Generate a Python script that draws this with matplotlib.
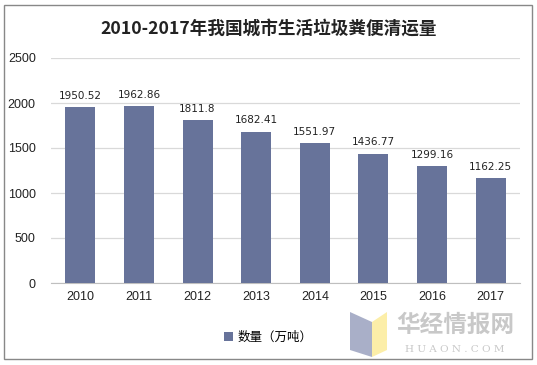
import matplotlib
matplotlib.use("Agg")
import matplotlib.pyplot as plt
from matplotlib.patches import Polygon, Rectangle

plt.rcParams['font.family'] = ['Noto Sans CJK SC', 'DejaVu Sans']

years = ['2010', '2011', '2012', '2013', '2014', '2015', '2016', '2017']
values = [1950.52, 1962.86, 1811.8, 1682.41, 1551.97, 1436.77, 1299.16, 1162.25]
labels = ['1950.52', '1962.86', '1811.8', '1682.41', '1551.97', '1436.77', '1299.16', '1162.25']
yticks = [0, 500, 1000, 1500, 2000, 2500]

fig = plt.figure(figsize=(5.37, 3.65), dpi=100)
fig.patches.append(Rectangle((4/537, 1-359/365), 528/537, 354/365, transform=fig.transFigure,
                             fill=False, edgecolor='#888888', linewidth=1.0))

ax = fig.add_axes([51/537, 1-283/365, 469/537, 225/365])
x = range(len(years))
ax.bar(x, values, width=0.51, color='#67739A', zorder=3, label='数量（万吨）')
for i, (v, l) in enumerate(zip(values, labels)):
    ax.text(i, v + 70, l, ha='center', va='bottom', fontsize=7.5, color='#222222',
            family=['DejaVu Sans'])
ax.set_xlim(-0.5, len(years) - 0.5)
ax.set_ylim(0, 2500)
ax.set_yticks(yticks)
ax.set_yticklabels([str(t) for t in yticks], fontsize=9, family=['Liberation Sans'])
ax.set_xticks(list(x))
ax.set_xticklabels(years, fontsize=9, family=['Liberation Sans'])
ax.grid(axis='y', color='#D9D9D9', linewidth=0.9, zorder=0)
for s in ['top', 'right', 'left']:
    ax.spines[s].set_visible(False)
ax.spines['bottom'].set_color('#BFBFBF')
ax.tick_params(axis='both', length=0, colors='#222222')
ax.tick_params(axis='y', pad=11)
ax.tick_params(axis='x', pad=6)

fig.text(0.5, 1-30/365, '2010-2017年我国城市生活垃圾粪便清运量', ha='center', va='center',
         fontsize=12.7, fontweight='bold', color='#222222')

leg = fig.legend(loc='center', bbox_to_anchor=(0.5, 1-337/365), frameon=False,
                 fontsize=9, handlelength=0.7, handleheight=0.7, handletextpad=0.4)

# watermark
fig.patches.append(Polygon([(350/537, 1-312/365), (372/537, 1-322/365), (372/537, 1-357/365), (350/537, 1-350/365)],
                           closed=True, transform=fig.transFigure, facecolor='#A9AFC8', edgecolor='none'))
fig.patches.append(Polygon([(372/537, 1-322/365), (387/537, 1-312/365), (387/537, 1-350/365), (372/537, 1-357/365)],
                           closed=True, transform=fig.transFigure, facecolor='#FCEEA8', edgecolor='none'))
fig.text(455/537, 1-325/365, '华经情报网', ha='center', va='center', fontsize=17,
         color='#C8C8C8', fontweight='bold')
fig.text(455/537, 1-350/365, 'H U A O N . C O M', ha='center', va='center', fontsize=7.5,
         color='#C8C8C8', family=['DejaVu Serif'])

fig.savefig('out.png', dpi=100)
